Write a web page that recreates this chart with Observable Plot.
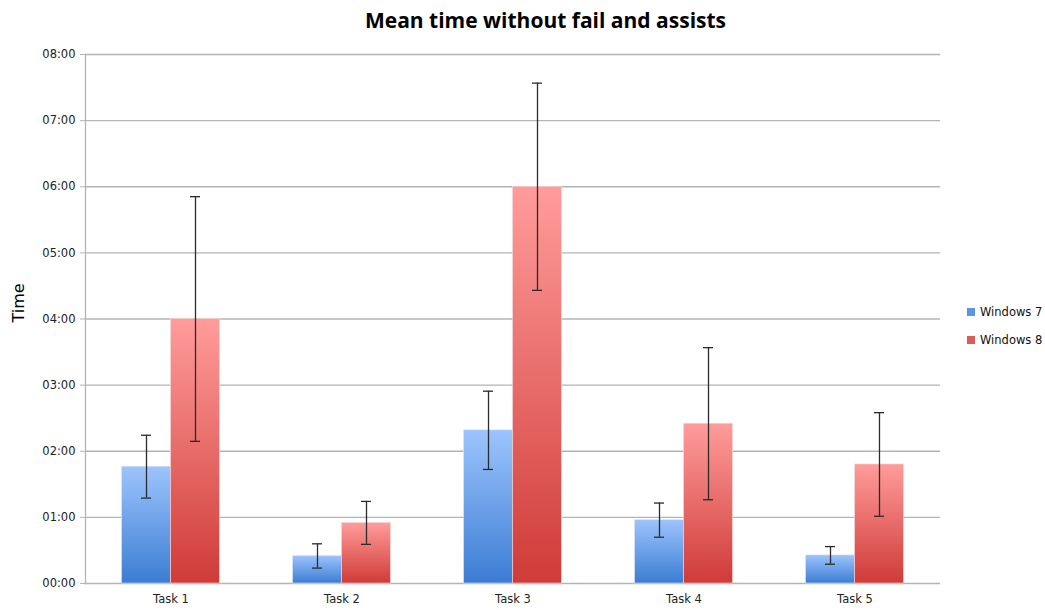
<!DOCTYPE html>
<html>
<head>
<meta charset="utf-8">
<script src="https://cdn.jsdelivr.net/npm/d3@7"></script>
<script src="https://cdn.jsdelivr.net/npm/@observablehq/plot@0.6"></script>
<style>
  body { margin: 0; background: #fff; }
  #wrap { position: relative; width: 1045px; height: 610px; font-family: "DejaVu Sans", sans-serif; }
  #title { position: absolute; top: 6px; left: 0; width: 999px; padding-left: 46px; text-align: center;
           font-family: "Open Sans", sans-serif; font-weight: 700; font-size: 21px; color: #000; z-index: 2; }
  #ylab { position: absolute; left: 18px; top: 303px; transform: translate(-50%, -50%) rotate(-90deg);
          font-size: 16px; color: #000; white-space: nowrap; z-index: 2; }
  #chart { position: absolute; left: 0; top: 40px; z-index: 1; }
  #legend { position: absolute; left: 967px; top: 305px; font-size: 11.5px; color: #111; z-index: 2; }
  #legend div { height: 28px; display: flex; align-items: flex-start; }
  #legend span.sw { display: inline-block; width: 8px; height: 8px; margin-right: 5px; margin-top: 3px; }
</style>
</head>
<body>
<div id="wrap">
  <div id="title">Mean time without fail and assists</div>
  <div id="ylab">Time</div>
  <div id="chart"></div>
  <div id="legend"></div>
</div>
<script>
// ---- data (seconds) ----
const tasks = ["Task 1", "Task 2", "Task 3", "Task 4", "Task 5"];
const seriesNames = ["Windows 7", "Windows 8"];
const win7 = [106, 25, 139, 57.5, 25.5];
const win8 = [240, 55, 360, 145, 108];
const err7 = [28.5, 11, 35.5, 15.5, 8];
const err8 = [111, 19.5, 94, 69, 47];
const yTicks = [0, 60, 120, 180, 240, 300, 360, 420, 480];

const fmt = s => String(Math.floor(s / 60)).padStart(2, "0") + ":" + String(Math.round(s % 60)).padStart(2, "0");

const d7 = tasks.map((t, i) => ({task: t, value: win7[i], lo: win7[i] - err7[i], hi: win7[i] + err7[i]}));
const d8 = tasks.map((t, i) => ({task: t, value: win8[i], lo: win8[i] - err8[i], hi: win8[i] + err8[i]}));

const W = 1045, H = 570, mL = 85, mR = 105, mT = 14, mB = 27;
const half = (W - mL - mR) / tasks.length / 2; // half band width
const barW = 49, cap = 5;
const errC = "#2b2b2b";

const plot = Plot.plot({
  width: W, height: H,
  marginLeft: mL, marginRight: mR, marginTop: mT, marginBottom: mB,
  style: {fontFamily: "DejaVu Sans, sans-serif", fontSize: "11.5px", color: "#222", background: "#fff"},
  x: {type: "band", domain: tasks, padding: 0, label: null},
  y: {domain: [0, 480], label: null},
  marks: [
    Plot.ruleY(yTicks, {stroke: "#b4b4b4", strokeWidth: 1.3}),
    Plot.frame({anchor: "left", stroke: "#b4b4b4", strokeWidth: 1.3}),
    Plot.axisY({ticks: yTicks, tickFormat: fmt, tickSize: 5, tickPadding: 5, stroke: "#b4b4b4", fill: "#222", label: null}),
    Plot.axisX({tickSize: 0, tickPadding: 11, fill: "#222", label: null}),
    Plot.barY(d7, {x: "task", y: "value", fill: "url(#gradBlue)", stroke: "#dfe8f5", strokeWidth: 0.6,
                   insetLeft: half - barW, insetRight: half}),
    Plot.barY(d8, {x: "task", y: "value", fill: "url(#gradRed)", stroke: "#f3dcdc", strokeWidth: 0.6,
                   insetLeft: half, insetRight: half - barW}),
    Plot.ruleX(d7, {x: "task", y1: "lo", y2: "hi", dx: -barW / 2, stroke: errC, strokeWidth: 1.3}),
    Plot.ruleX(d8, {x: "task", y1: "lo", y2: "hi", dx: barW / 2, stroke: errC, strokeWidth: 1.3}),
    Plot.tickY(d7, {x: "task", y: "hi", stroke: errC, strokeWidth: 1.3, insetLeft: half - barW / 2 - cap, insetRight: half + barW / 2 - cap}),
    Plot.tickY(d7, {x: "task", y: "lo", stroke: errC, strokeWidth: 1.3, insetLeft: half - barW / 2 - cap, insetRight: half + barW / 2 - cap}),
    Plot.tickY(d8, {x: "task", y: "hi", stroke: errC, strokeWidth: 1.3, insetLeft: half + barW / 2 - cap, insetRight: half - barW / 2 - cap}),
    Plot.tickY(d8, {x: "task", y: "lo", stroke: errC, strokeWidth: 1.3, insetLeft: half + barW / 2 - cap, insetRight: half - barW / 2 - cap})
  ]
});

const svg = d3.select(plot);
const defs = svg.insert("defs", ":first-child");
function grad(id, top, bottom) {
  const g = defs.append("linearGradient").attr("id", id).attr("x1", 0).attr("y1", 0).attr("x2", 0).attr("y2", 1);
  g.append("stop").attr("offset", "0%").attr("stop-color", top);
  g.append("stop").attr("offset", "100%").attr("stop-color", bottom);
}
grad("gradBlue", "#9dc4fd", "#3b7dd3");
grad("gradRed", "#ff9c9a", "#cf3b38");
document.getElementById("chart").appendChild(plot);

const legendColors = ["#5b95e4", "#e05a58"];
const lg = d3.select("#legend");
seriesNames.forEach((n, i) => {
  const row = lg.append("div");
  row.append("span").attr("class", "sw").style("background", legendColors[i]);
  row.append("span").text(n);
});
</script>
</body>
</html>
